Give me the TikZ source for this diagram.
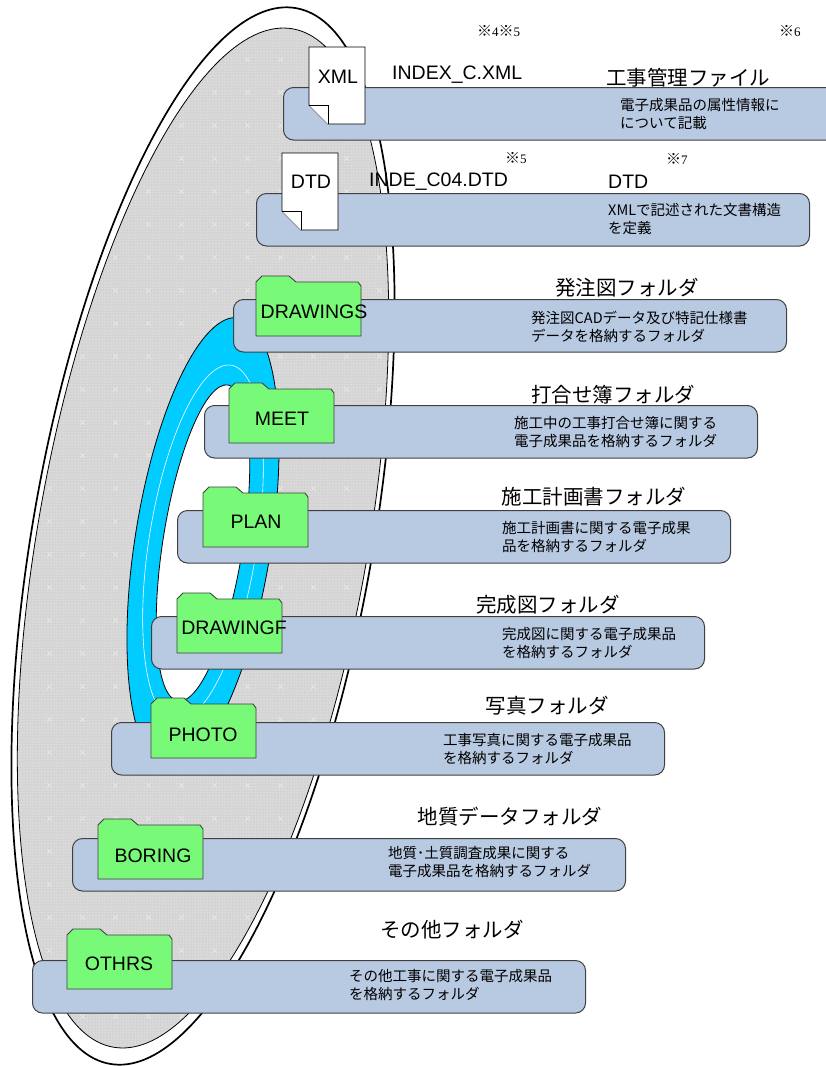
\documentclass[tikz,border=0pt]{standalone}
\usepackage{fontspec}
\setmainfont{Liberation Sans}
\newfontfamily\jp{Noto Sans CJK JP}
\newfontfamily\mincho{Liberation Serif}
\usetikzlibrary{patterns}

\definecolor{barfill}{RGB}{184,201,226}
\definecolor{barline}{RGB}{64,64,64}
\definecolor{foldergreen}{RGB}{120,250,120}
\definecolor{ringblue}{RGB}{0,204,255}
\definecolor{diskgray}{RGB}{212,212,212}
\definecolor{crosslight}{RGB}{236,236,236}

% sparse light crosses sprinkled over the disc surface
\pgfdeclarepatternformonly{diskcross}{\pgfqpoint{-1pt}{-1pt}}{\pgfqpoint{34pt}{34pt}}{\pgfqpoint{33pt}{33pt}}{%
  \pgfsetlinewidth{0.5pt}%
  \pgfpathmoveto{\pgfqpoint{14pt}{14pt}}\pgfpathlineto{\pgfqpoint{19pt}{19pt}}%
  \pgfpathmoveto{\pgfqpoint{14pt}{19pt}}\pgfpathlineto{\pgfqpoint{19pt}{14pt}}%
  \pgfusepath{stroke}%
}

\tikzset{
  bar/.style={draw=barline, fill=barfill, line width=1pt, rounded corners=10pt,
    minimum width=553pt, minimum height=52.5pt, anchor=north west, inner sep=0pt},
  folderbox/.style={draw=barline, fill=foldergreen, line width=0.9pt, line join=round},
  page/.style={draw=black, fill=white, line width=0.9pt, line join=miter},
  tag/.style={font=\fontsize{19.5}{22}\selectfont, inner sep=0pt},
  title/.style={font=\jp\fontsize{20.5}{24}\selectfont, inner sep=0pt},
  desc/.style={font=\jp\fontsize{14.5}{18.5}\selectfont, align=left, anchor=west, inner sep=0pt},
  note/.style={font=\fontsize{15}{17}\selectfont, anchor=west, inner sep=0pt},
}

% reference mark followed by a serif number
\newcommand\kome[1]{{\jp ※}{\mincho\fontsize{13}{15}\selectfont #1}}

% folder icon: #1 left edge, #2 top of the folder body
\newcommand\folder[2]{%
  \draw[folderbox] (#1,#2+54) -- (#1,#2) -- (#1+6,#2-6) -- (#1+33,#2-6)
    -- (#1+40,#2) -- (#1+102,#2) -- (#1+105,#2+4) -- (#1+105,#2+54) -- cycle;
}

% document page with a folded lower-left corner: x0, y0, x1, y1, fold size
\newcommand\docpage[5]{%
  \draw[page] (#1,#2) -- (#3,#2) -- (#3,#4) -- (#1+#5,#4) -- (#1,#4-#5) -- cycle;
  \draw[page] (#1,#4-#5) -- (#1+#5,#4-#5) -- (#1+#5,#4);
}

\begin{document}
\begin{tikzpicture}[x=1pt,y=-1pt]
\useasboundingbox (0,0) rectangle (826,1066);
\clip (0,0) rectangle (826,1066);
\fill[white] (0,0) rectangle (826,1066);

% the tilted disc with its double rim
\begin{scope}[shift={(203,536)}, rotate=80]
  \draw[line width=1.7pt, fill=white] (0,0) ellipse [x radius=536, y radius=170];
\end{scope}
\begin{scope}[shift={(203,538)}, rotate=80]
  \fill[diskgray] (0,0) ellipse [x radius=517, y radius=165];
  \fill[pattern=dots, pattern color=white] (0,0) ellipse [x radius=517, y radius=165];
  \fill[pattern=diskcross, pattern color=crosslight] (0,0) ellipse [x radius=517, y radius=165];
  \draw[line width=0.8pt] (0,0) ellipse [x radius=517, y radius=165];
\end{scope}

% the blue ring inside the disc
\begin{scope}[shift={(203,543)}, rotate=81]
  \draw[fill=ringblue, line width=0.8pt] (0,0) ellipse [x radius=228, y radius=68];
  \draw[fill=white, line width=0.8pt] (0,0) ellipse [x radius=160, y radius=40];
  \draw[white, line width=0.6pt] (0,0) ellipse [x radius=180, y radius=54];
\end{scope}

% bars
\node[bar] (barxml)  at (283,87)  {};
\node[bar] (bardtd)  at (256,193) {};
\node[bar] (bardrws) at (233,299) {};
\node[bar] (barmeet) at (204,405) {};
\node[bar] (barplan) at (177,510) {};
\node[bar] (bardrwf) at (151,616) {};
\node[bar] (barphot) at (111,722) {};
\node[bar] (barbore) at (72,838)  {};
\node[bar] (barothr) at (32,960)  {};

% document pages
\docpage{309}{47}{365}{124}{19}
\docpage{282}{153}{338}{230}{19}
\node[tag] (xmltag) at (338,77) {XML};
\node[tag] (dtdtag) at (311,182) {DTD};

% folders
\folder{256}{282}
\folder{229}{389}
\folder{203}{493}
\folder{177}{599}
\folder{151}{704}
\folder{98}{825}
\folder{67}{935}

\node[tag] (fdrws) at (314,312) {DRAWINGS};
\node[tag] (fmeet) at (282,419) {MEET};
\node[tag] (fplan) at (256,522) {PLAN};
\node[tag] (fdrwf) at (234,628) {DRAWINGF};
\node[tag] (fphot) at (203,735) {PHOTO};
\node[tag] (fbore) at (153,856) {BORING};
\node[tag] (fothr) at (119,964) {OTHRS};

% file names and reference marks
\node[tag, anchor=west] (xmlname) at (392,75) {INDEX\_C.XML};
\node[tag, anchor=west] (dtdname) at (369,182) {INDE\_C04.DTD};
\node[tag, anchor=west] (dtdkind) at (608,182) {DTD};
\node[note] (n45) at (477,31) {\kome{4}\kome{5}};
\node[note] (n6)  at (779,31) {\kome{6}};
\node[note] (n5)  at (505,158) {\kome{5}};
\node[note] (n7)  at (666,159) {\kome{7}};

% titles
\node[title] (txml)  at (688,78)  {工事管理ファイル};
\node[title] (tdrws) at (627,288) {発注図フォルダ};
\node[title] (tmeet) at (613,395) {打合せ簿フォルダ};
\node[title] (tplan) at (594,497) {施工計画書フォルダ};
\node[title] (tdrwf) at (548,605) {完成図フォルダ};
\node[title] (tphot) at (547,706) {写真フォルダ};
\node[title] (tbore) at (510,817) {地質データフォルダ};
\node[title] (tothr) at (452,930) {その他フォルダ};

% descriptions
\node[desc] (dxml)  at (620,114) {電子成果品の属性情報に\\について記載};
\node[desc] (ddtd)  at (608,219) {XMLで記述された文書構造\\を定義};
\node[desc] (ddrws) at (531,327) {発注図CADデータ及び特記仕様書\\データを格納するフォルダ};
\node[desc] (dmeet) at (514,432) {施工中の工事打合せ簿に関する\\電子成果品を格納するフォルダ};
\node[desc] (dplan) at (502,537) {施工計画書に関する電子成果\\品を格納するフォルダ};
\node[desc] (ddrwf) at (502,643) {完成図に関する電子成果品\\を格納するフォルダ};
\node[desc] (dphot) at (443,749) {工事写真に関する電子成果品\\を格納するフォルダ};
\node[desc] (dbore) at (388,862) {地質･土質調査成果に関する\\電子成果品を格納するフォルダ};
\node[desc] (dothr) at (349,985) {その他工事に関する電子成果品\\を格納するフォルダ};
\end{tikzpicture}
\end{document}
